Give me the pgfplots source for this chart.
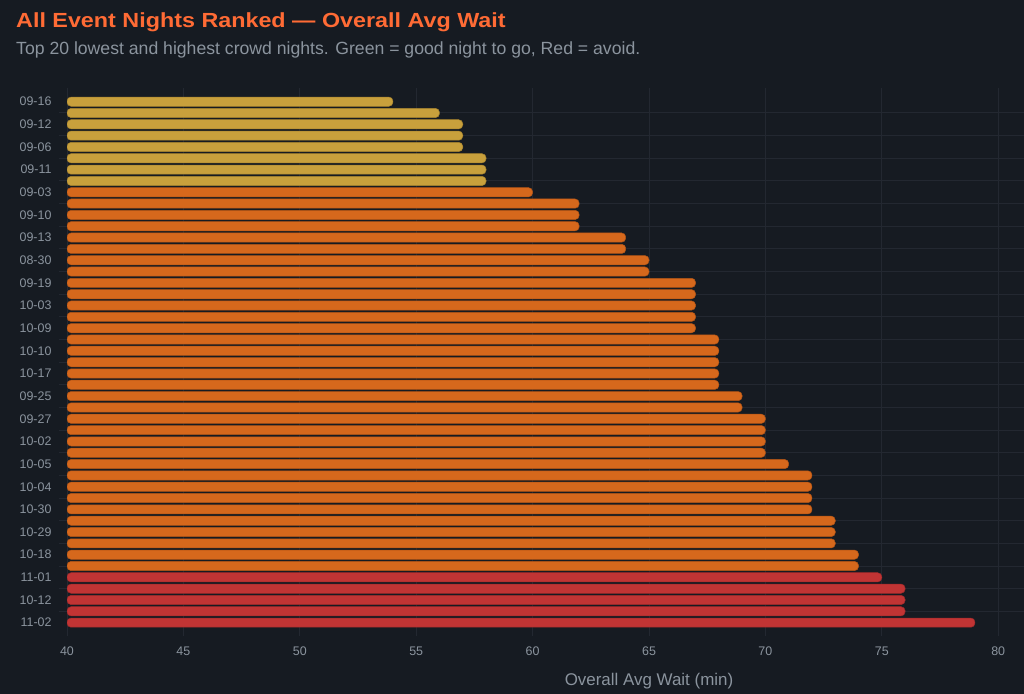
\documentclass[border=0pt]{standalone}
\usepackage{pgfplots}
\pgfplotsset{compat=1.18}
\usepackage{pgfplotstable}
\usepackage{fontspec}
\setmainfont{Liberation Sans}
\definecolor{bg}{HTML}{161B22}
\definecolor{gridc}{HTML}{232831}
\definecolor{tickc}{HTML}{8B949E}
\definecolor{titlec}{HTML}{FF6B35}
\definecolor{goldc}{HTML}{C8A03C}
\definecolor{goldb}{HTML}{A6832E}
\definecolor{orangec}{HTML}{D6681C}
\definecolor{orangeb}{HTML}{B05416}
\definecolor{redc}{HTML}{C13434}
\definecolor{redb}{HTML}{9E2A2A}

\pgfplotstableread{
y v
1 54
2 56
3 57
4 57
5 57
6 58
7 58
8 58
}\golddata
\pgfplotstableread{
y v
9 60
10 62
11 62
12 62
13 64
14 64
15 65
16 65
17 67
18 67
19 67
20 67
21 67
22 68
23 68
24 68
25 68
26 68
27 69
28 69
29 70
30 70
31 70
32 70
33 71
34 72
35 72
36 72
37 72
38 73
39 73
40 73
41 74
42 74
}\orangedata
\pgfplotstableread{
y v
43 75
44 76
45 76
46 76
47 79
}\reddata

\begin{document}
\begin{tikzpicture}
\fill[bg] (0,0) rectangle (1024bp,694bp);
\useasboundingbox (0,0) rectangle (1024bp,694bp);
\clip (0,0) rectangle (1024bp,694bp);
\node[anchor=base west, text=titlec, font=\fontsize{20.5}{24}\selectfont\bfseries, inner sep=0pt] at (16bp,666.7bp) {\scalebox{1.142}[1]{All Event Nights Ranked — Overall Avg Wait}};
\node[anchor=base west, text=tickc, font=\fontsize{17.7}{21}\selectfont, inner sep=0pt] at (16bp,639.7bp) {Top 20 lowest and highest crowd nights. Green = good night to go, Red = avoid.};
\begin{axis}[
  at={(67bp,65.7bp)}, anchor=south west,
  width=1164bp, height=532.3bp, scale only axis,
  xmin=40, xmax=90, ymin=0.5, ymax=47.5, y dir=reverse,
  axis line style={draw=none},
  xtick={40,45,...,80},
  xmajorgrids,
  grid style={gridc, line width=1bp},
  tick style={gridc, line width=1bp},
  tick align=outside,
  major tick length=8bp,
  ytick={2,4,...,46},
  yticklabels={},
  ymajorgrids,
  extra y ticks={1,3,...,47},
  extra y tick labels={09-16,09-12,09-06,09-11,09-03,09-10,09-13,08-30,09-19,10-03,10-09,10-10,10-17,09-25,09-27,10-02,10-05,10-04,10-30,10-29,10-18,11-01,10-12,11-02},
  extra y tick style={grid=none, major tick length=0pt},
  /pgf/number format/assume math mode=true,
  tick label style={font=\fontsize{12.5}{15}\selectfont, text=tickc, inner sep=0pt},
  xticklabel style={anchor=north, yshift=-10.4bp},
  yticklabel style={anchor=east, xshift=-15.3bp},
  xlabel={Overall Avg Wait (min)},
  every axis x label/.style={at={(axis description cs:0.5,0)}, anchor=base, yshift=-56.7bp, inner sep=0pt, font=\fontsize{17}{20}\selectfont, text=tickc},
  clip=true,
]
\addplot[xbar, bar shift=0pt, bar width=9.2bp, fill=goldc, draw=goldb, line width=0.5bp, rounded corners=4bp] table[x=v,y=y]{\golddata};
\addplot[xbar, bar shift=0pt, bar width=9.2bp, fill=orangec, draw=orangeb, line width=0.5bp, rounded corners=4bp] table[x=v,y=y]{\orangedata};
\addplot[xbar, bar shift=0pt, bar width=9.2bp, fill=redc, draw=redb, line width=0.5bp, rounded corners=4bp] table[x=v,y=y]{\reddata};
\end{axis}
\end{tikzpicture}
\end{document}
